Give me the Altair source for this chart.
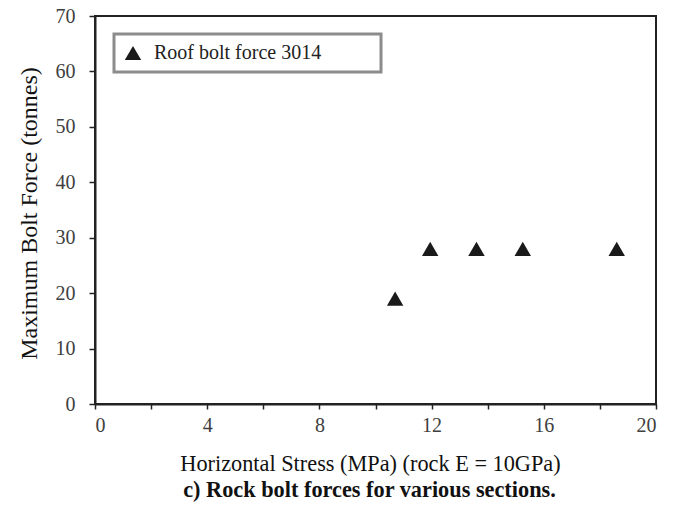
import altair as alt
import pandas as pd

# Data
stress = [10.7, 11.95, 13.6, 15.25, 18.6]
force = [19, 28, 28, 28, 28]
series = ["Roof bolt force 3014"] * 5

x_ticks = [0, 2, 4, 6, 8, 10, 12, 14, 16, 18, 20]
y_ticks = [0, 10, 20, 30, 40, 50, 60, 70]

df = pd.DataFrame({"stress": stress, "force": force, "series": series})

FONT = "Liberation Serif"
AX = "#222222"
PAD = "\u00a0" + "\u2800" * 3

chart = (
    alt.Chart(df)
    .mark_point(shape="triangle-up", filled=True, size=270, opacity=1)
    .encode(
        x=alt.X(
            "stress:Q",
            scale=alt.Scale(domain=[0, 20], nice=False, zero=True),
            axis=alt.Axis(
                title="Horizontal Stress (MPa) (rock E = 10GPa)",
                values=x_ticks,
                labelExpr="datum.value % 4 == 0 ? datum.label : ''",
                grid=False,
                tickSize=5,
                labelPadding=6,
                titlePadding=17,
                titleFontSize=22.3,
                titleX=275,
            ),
        ),
        y=alt.Y(
            "force:Q",
            scale=alt.Scale(domain=[0, 70], nice=False),
            axis=alt.Axis(
                title="Maximum Bolt Force (tonnes)",
                values=y_ticks,
                grid=False,
                tickSize=6,
                labelPadding=14,
                titlePadding=14,
                titleFontSize=24,
                titleY=197,
            ),
        ),
        color=alt.Color(
            "series:N",
            scale=alt.Scale(range=["#1a1a1a"]),
            legend=alt.Legend(
                title=None,
                orient="none",
                legendX=19,
                legendY=18,
                symbolType="triangle-up",
                symbolSize=270,
                symbolFillColor="#1a1a1a",
                symbolStrokeWidth=0,
                labelFont=FONT,
                labelFontSize=20,
                labelColor="#222222",
                labelOffset=11,
                labelLimit=400,
                labelExpr="datum.label + '" + PAD + "'",
                strokeColor="#8c8c8c",
                padding=9,
                fillColor="white",
            ),
        ),
    )
    .properties(
        width=561,
        height=388,
        autosize=alt.AutoSizeParams(type="none"),
        padding={"left": 95, "top": 16, "right": 17, "bottom": 104},
        title=alt.TitleParams(
            "c)  Rock bolt forces for various sections.",
            orient="bottom",
            anchor="middle",
            frame="group",
            offset=5,
            font=FONT,
            fontSize=22.3,
            fontWeight="bold",
            color="#111111",
            dx=-6,
        ),
    )
    .configure_view(stroke=AX, strokeWidth=2)
    .configure_legend(strokeWidth=3)
    .configure_axis(
        domainColor=AX,
        domainWidth=2,
        tickColor=AX,
        tickWidth=1.5,
        labelFont=FONT,
        labelFontSize=20,
        labelColor="#404040",
        titleFont=FONT,
        titleFontWeight="normal",
        titleColor="#111111",
    )
)

chart.save("out.html", embed_options={"renderer": "svg", "actions": False})
